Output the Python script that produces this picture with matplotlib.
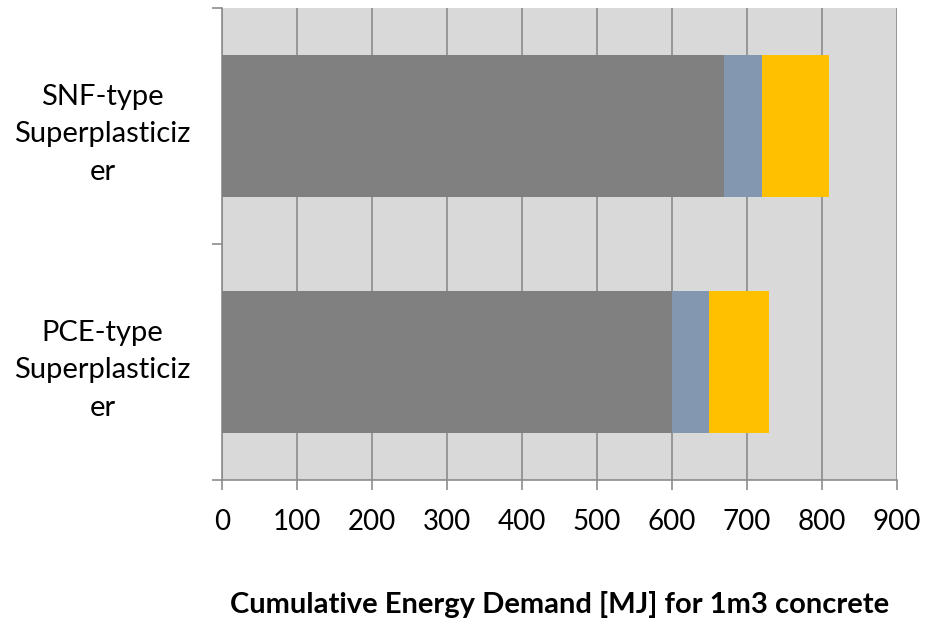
import numpy as np
import matplotlib.pyplot as plt

plt.rcParams['font.family'] = ['Lato', 'DejaVu Sans']

# Cumulative energy demand per 1 m3 concrete, split by component
categories = ['PCE-type\nSuperplasticiz\ner', 'SNF-type\nSuperplasticiz\ner']
part_a = [600, 670]
part_b = [50, 50]
part_c = [80, 90]
colors = ['#808080', '#8497b0', '#ffc000']

fig = plt.figure(figsize=(9.25, 6.19), dpi=100)
ax = fig.add_axes([0.24, 0.2246, 0.7297, 0.7625])
ax.set_facecolor('#d9d9d9')

y = np.arange(len(categories))
left = np.zeros(len(categories))
for vals, c in zip([part_a, part_b, part_c], colors):
    ax.barh(y, vals, left=left, height=0.6, color=c, zorder=3)
    left += np.array(vals)

ax.set_xlim(0, 900)
ax.set_ylim(-0.5, 1.5)
ax.set_xticks(np.arange(0, 901, 100))
ax.grid(axis='x', color='#8c8c8c', linewidth=1.2, zorder=1)
ax.set_axisbelow(True)

# category boundaries as major ticks, labels on minor ticks at bar centres
ax.set_yticks([-0.5, 0.5, 1.5])
ax.set_yticklabels([])
ax.set_yticks(y, minor=True)
ax.set_yticklabels(categories, minor=True, fontsize=21, ha='center',
                   linespacing=1.55)
ax.tick_params(axis='y', which='minor', length=0, pad=86)
ax.tick_params(axis='y', which='major', length=7, color='#8c8c8c', width=1.2)
ax.tick_params(axis='x', length=7, color='#8c8c8c', width=1.2,
               labelsize=20, pad=14)

for s in ['top', 'right']:
    ax.spines[s].set_visible(False)
for s in ['left', 'bottom']:
    ax.spines[s].set_color('#8c8c8c')
    ax.spines[s].set_linewidth(1.2)

ax.set_xlabel('Cumulative Energy Demand [MJ] for 1m3 concrete',
              fontsize=21, fontweight='bold', labelpad=40)

fig.savefig('out.png', dpi=100)
